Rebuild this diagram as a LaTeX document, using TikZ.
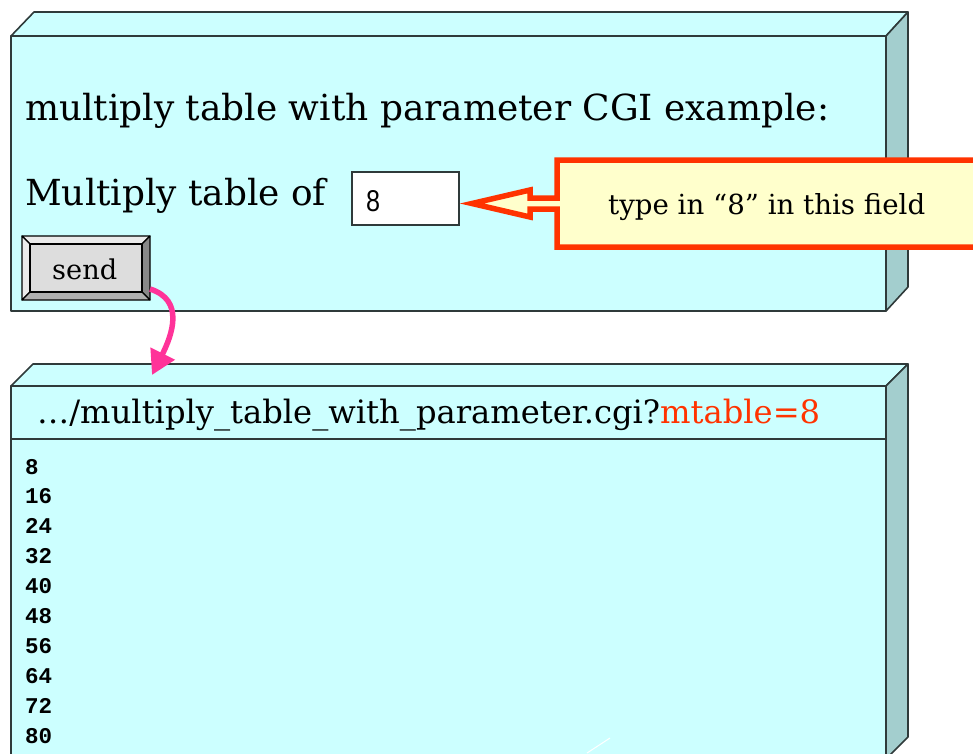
\documentclass[tikz,border=0pt]{standalone}
\usepackage{fontspec}
\usepackage{graphicx}
\setmainfont{DejaVu Serif}
\newfontfamily\uisans{Liberation Sans}
\newfontfamily\codemono{Liberation Mono}
\usetikzlibrary{arrows.meta}

\definecolor{panelfill}{HTML}{CCFFFF}
\definecolor{panelside}{HTML}{A3CECE}
\definecolor{paneledge}{HTML}{2F3A3A}
\definecolor{noteedge}{HTML}{FF3300}
\definecolor{notefill}{HTML}{FFFFCC}
\definecolor{linkpink}{HTML}{FF3399}
\definecolor{btnface}{HTML}{DDDDDD}
\definecolor{btnlight}{HTML}{EBEBEB}
\definecolor{btnmid}{HTML}{B0B0B0}
\definecolor{btndark}{HTML}{888888}

\begin{document}
\begin{tikzpicture}[x=1pt,y=-1pt,
  panel/.style={fill=panelfill,draw=paneledge,line width=1.6pt,line join=round},
  panelsidestyle/.style={fill=panelside,draw=paneledge,line width=1.6pt,line join=round},
  txt/.style={anchor=base west,inner sep=0pt,text=black},
  numtxt/.style={anchor=base west,inner sep=0pt,font=\codemono\bfseries\fontsize{22.5}{22.5}\selectfont},
  bevel/.style={draw=black,line width=1.1pt,line join=round},
  notebox/.style={fill=notefill,draw=noteedge,line width=5.5pt,line join=miter},
  sendlink/.style={draw=linkpink,line width=5.5pt,-{Triangle[length=24pt,width=26pt]}}
]
\useasboundingbox (0,0) rectangle (973,753);
\clip (0,0) rectangle (973,753);

% ---------- upper panel: the form ----------
\draw[panel] (11,36) rectangle (886,311);
\draw[panel] (11,36) -- (34,12) -- (908,12) -- (886,36) -- cycle;
\draw[panelsidestyle] (886,36) -- (908,12) -- (908,287) -- (886,311) -- cycle;

\node[txt] (title) at (25,120)
  {\resizebox{804pt}{!}{multiply table with parameter CGI example:}};
\node[txt] (label) at (25,205)
  {\resizebox{301pt}{!}{Multiply table of}};

% input field
\node[draw=paneledge,fill=white,line width=1.3pt,minimum width=107pt,minimum height=53pt,inner sep=0pt]
  (field) at (405.5,198.5) {};
\node[txt] (fieldval) at (366,211) {\resizebox{14pt}{21pt}{\uisans 8}};

% send button with bevelled frame
\fill[btnface] (30,244) rectangle (142,292);
\filldraw[bevel,fill=btnlight] (22,236) -- (150,236) -- (142,244) -- (30,244) -- cycle;
\filldraw[bevel,fill=btnlight] (22,236) -- (30,244) -- (30,292) -- (22,300) -- cycle;
\filldraw[bevel,fill=btndark] (150,236) -- (150,300) -- (142,292) -- (142,244) -- cycle;
\filldraw[bevel,fill=btnmid] (22,300) -- (150,300) -- (142,292) -- (30,292) -- cycle;
\node[draw=black,line width=1.1pt,minimum width=112pt,minimum height=48pt,inner sep=0pt]
  (send) at (86,268) {};
\node[txt] (sendlabel) at (52,279) {\resizebox{65pt}{!}{send}};

% ---------- callout pointing at the field ----------
\draw[notebox] (990,160) -- (557,160) -- (557,198) -- (530,198) -- (530,190)
  -- (472,203.5) -- (530,217) -- (530,209) -- (557,209) -- (557,247) -- (990,247);
\node[txt] (note) at (608,214) {\resizebox{317pt}{!}{type in “8” in this field}};

% ---------- lower panel: the result page ----------
\draw[panel] (11,386) rectangle (886,780);
\draw[panel] (11,386) -- (33,364) -- (908,364) -- (886,386) -- cycle;
\draw[panelsidestyle] (886,386) -- (908,364) -- (908,737) -- (886,759) -- cycle;
\draw[draw=paneledge,line width=1.6pt] (11,439) -- (886,439);

\node[txt] (url) at (37,423)
  {\resizebox{783pt}{!}{…/multiply\_table\_with\_parameter.cgi?\textcolor{noteedge}{mtable=8}}};

\foreach \n [count=\i from 0] in {8,16,24,32,40,48,56,64,72,80}
  \node[numtxt] (row\i) at (25,474+29.9*\i) {\n};

\draw[white,line width=1pt] (587,753) -- (610,738);

% ---------- link from the button to the result ----------
\coordinate (sendtail) at (150,289);
\coordinate (hit) at (152,375);
\draw[sendlink] (sendtail) .. controls (185,300) and (172,335) .. (hit);
\end{tikzpicture}
\end{document}
